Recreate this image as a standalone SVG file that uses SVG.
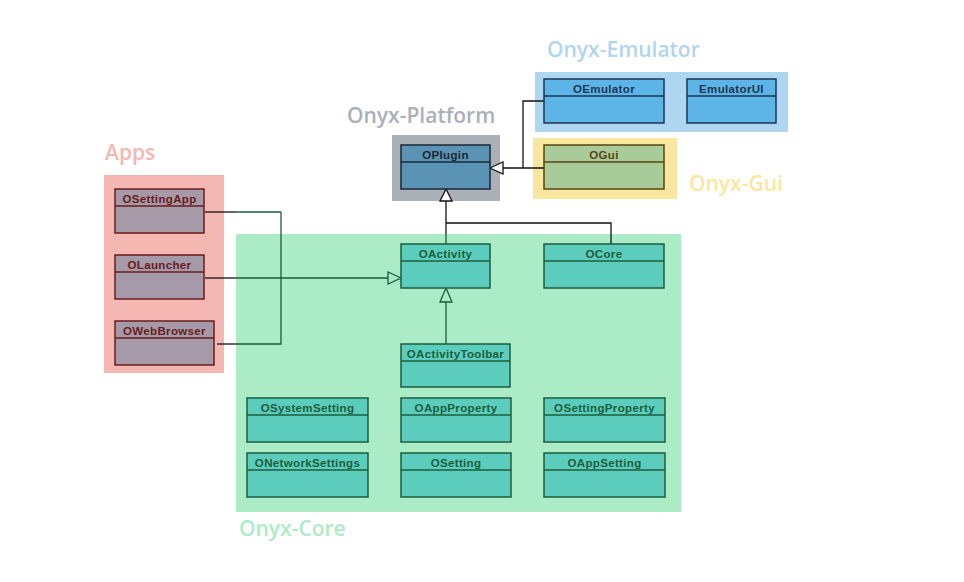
<svg xmlns="http://www.w3.org/2000/svg" width="964" height="582" viewBox="0 0 964 582">
<style>
.lbl{font-family:"Open Sans","Liberation Sans",sans-serif;font-size:21px;font-weight:600}
.nt{font-family:"Liberation Sans",Arial,sans-serif;font-size:11.5px;font-weight:bold;letter-spacing:0.35px;text-anchor:middle}
.core rect,.core line{fill:#5ccdbd;stroke:#1b5e3c;stroke-width:1.5}
.core text{fill:#1b5e3c}
.emu rect,.emu line{fill:#5db5e7;stroke:#1b3550;stroke-width:1.5}
.emu text{fill:#1b3550}
.plat rect,.plat line{fill:#5a93b4;stroke:#1a2836;stroke-width:1.5}
.plat text{fill:#1a2836}
.gui rect,.gui line{fill:#a9cb99;stroke:#5a4510;stroke-width:1.5}
.gui text{fill:#5a4510}
.app rect,.app line{fill:#a699a8;stroke:#681c1c;stroke-width:1.5}
.app text{fill:#681c1c}
.conn path{fill:none;stroke:#111;stroke-width:1.3}
.conn .in{stroke:#1b5e3c}
.tri{fill:#fff;stroke:#111;stroke-width:1.3}
.trig{fill:#abebc6;stroke:#1b5e3c;stroke-width:1.3}
</style>
<rect width="964" height="582" fill="#fff"/>
<!-- regions -->
<g id="region-emulator"><rect x="535" y="72" width="253" height="60" fill="#aed6f1"/><text class="lbl" x="547" y="57" fill="#aed6f1">Onyx-Emulator</text></g>
<g id="region-platform"><rect x="392" y="135" width="108" height="66" fill="#aab0b8"/><text class="lbl" x="347" y="123" fill="#aab0b8">Onyx-Platform</text></g>
<g id="region-gui"><rect x="533" y="138" width="144" height="61" fill="#f9e79f"/><text class="lbl" x="689" y="191" fill="#f9e79f">Onyx-Gui</text></g>
<g id="region-apps"><rect x="104" y="175" width="120" height="198" fill="#f5b7b1"/><text class="lbl" x="105" y="160" fill="#f5b7b1">Apps</text></g>
<g id="region-core"><rect x="236" y="234" width="445" height="278" fill="#abebc6"/><text class="lbl" x="239" y="536" fill="#abebc6">Onyx-Core</text></g>
<!-- connectors -->
<g id="connectors" class="conn">
<path d="M544 101H523V168"/>
<path d="M544 168H503"/>
<polygon class="tri" points="490,168 503,162 503,174"/>
<path d="M611 244V223H446"/>
<path class="in" d="M446 244V234"/>
<path d="M446 234V201"/>
<polygon class="tri" points="446,189 440,201 452,201"/>
<path class="in" d="M446 344V302"/>
<polygon class="trig" points="446,288 440,302 452,302"/>
<path d="M205 212H236"/>
<path class="in" d="M236 212H281"/>
<path d="M205 278H236"/>
<path class="in" d="M236 278H281"/>
<path d="M217 344H236"/>
<path class="in" d="M236 344H281V212"/>
<path class="in" d="M281 278H388"/>
<polygon class="trig" points="401,278 388,272 388,284"/>
</g>
<!-- nodes -->
<g id="OEmulator" class="emu"><rect x="544" y="79" width="120" height="44"/><line x1="544" y1="96" x2="664" y2="96"/><text class="nt" x="604" y="92.5">OEmulator</text></g>
<g id="EmulatorUI" class="emu"><rect x="687" y="79" width="89" height="44"/><line x1="687" y1="96" x2="776" y2="96"/><text class="nt" x="731.5" y="92.5">EmulatorUI</text></g>
<g id="OPlugin" class="plat"><rect x="401" y="145" width="89" height="44"/><line x1="401" y1="162" x2="490" y2="162"/><text class="nt" x="445.5" y="158.5">OPlugin</text></g>
<g id="OGui" class="gui"><rect x="544" y="145" width="120" height="44"/><line x1="544" y1="162" x2="664" y2="162"/><text class="nt" x="604" y="158.5">OGui</text></g>
<g id="OSettingApp" class="app"><rect x="115" y="189" width="89" height="44"/><line x1="115" y1="206" x2="204" y2="206"/><text class="nt" x="159.5" y="202.5">OSettingApp</text></g>
<g id="OLauncher" class="app"><rect x="115" y="255" width="89" height="44"/><line x1="115" y1="272" x2="204" y2="272"/><text class="nt" x="159.5" y="268.5">OLauncher</text></g>
<g id="OWebBrowser" class="app"><rect x="115" y="321" width="99" height="44"/><line x1="115" y1="338" x2="214" y2="338"/><text class="nt" x="164.5" y="334.5">OWebBrowser</text></g>
<g id="OActivity" class="core"><rect x="401" y="244" width="89" height="44"/><line x1="401" y1="261" x2="490" y2="261"/><text class="nt" x="445.5" y="257.5">OActivity</text></g>
<g id="OCore" class="core"><rect x="544" y="244" width="120" height="44"/><line x1="544" y1="261" x2="664" y2="261"/><text class="nt" x="604" y="257.5">OCore</text></g>
<g id="OActivityToolbar" class="core"><rect x="401" y="344" width="109" height="43"/><line x1="401" y1="361" x2="510" y2="361"/><text class="nt" x="455.5" y="357.5">OActivityToolbar</text></g>
<g id="OSystemSetting" class="core"><rect x="247" y="398" width="121" height="44"/><line x1="247" y1="415" x2="368" y2="415"/><text class="nt" x="307.5" y="411.5">OSystemSetting</text></g>
<g id="OAppProperty" class="core"><rect x="401" y="398" width="110" height="44"/><line x1="401" y1="415" x2="511" y2="415"/><text class="nt" x="456" y="411.5">OAppProperty</text></g>
<g id="OSettingProperty" class="core"><rect x="544" y="398" width="121" height="44"/><line x1="544" y1="415" x2="665" y2="415"/><text class="nt" x="604.5" y="411.5">OSettingProperty</text></g>
<g id="ONetworkSettings" class="core"><rect x="247" y="453" width="121" height="44"/><line x1="247" y1="470" x2="368" y2="470"/><text class="nt" x="307.5" y="466.5">ONetworkSettings</text></g>
<g id="OSetting" class="core"><rect x="401" y="453" width="110" height="44"/><line x1="401" y1="470" x2="511" y2="470"/><text class="nt" x="456" y="466.5">OSetting</text></g>
<g id="OAppSetting" class="core"><rect x="544" y="453" width="121" height="44"/><line x1="544" y1="470" x2="665" y2="470"/><text class="nt" x="604.5" y="466.5">OAppSetting</text></g>
</svg>
